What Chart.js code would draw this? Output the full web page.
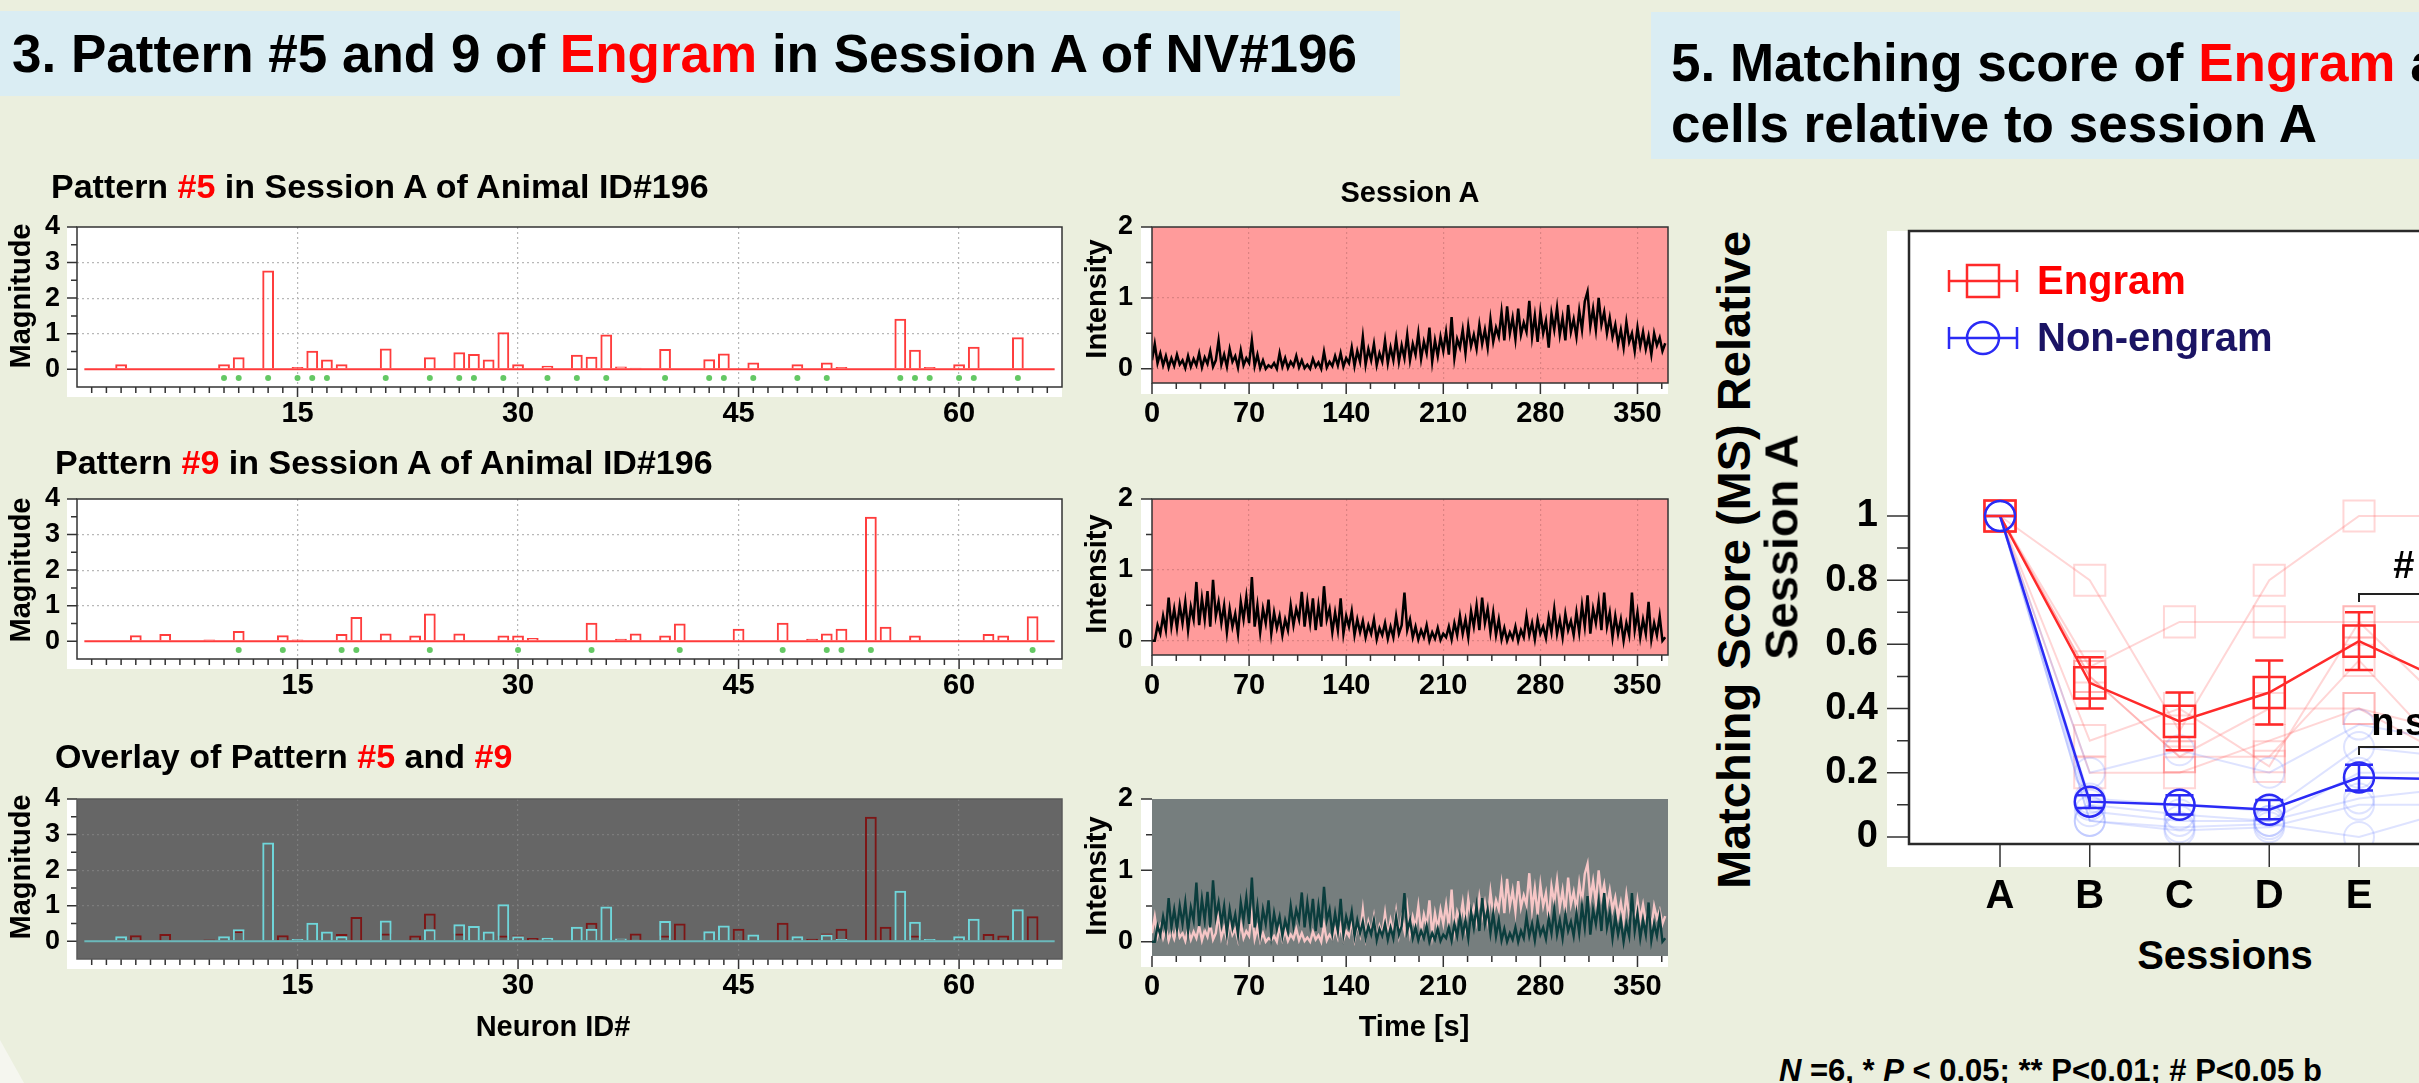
<!DOCTYPE html>
<html>
<head>
<meta charset="utf-8">
<title>Engram patterns NV#196</title>
<script src="https://cdn.jsdelivr.net/npm/chart.js@4.4.0/dist/chart.umd.min.js"></script>
<style>
  html, body { margin: 0; padding: 0; overflow: hidden; }
  body {
    width: 2419px; height: 1083px; position: relative;
    background: #ebefde;
    font-family: "Liberation Sans", Arial, sans-serif; font-weight: bold; color: #000;
  }
  .band { position: absolute; background: #daedf3; }
  .txt { position: absolute; white-space: nowrap; line-height: 1; z-index: 2; }
  .rot { position: absolute; white-space: nowrap; line-height: 1; z-index: 2;
         transform: translate(-50%, -50%) rotate(-90deg); }
  .red { color: #ff0000; }
  .corner { position: absolute; left: 0; top: 1040px; width: 24px; height: 43px;
            background: #f5f6ef; clip-path: polygon(0 0, 100% 100%, 0 100%); }
  canvas { position: absolute; z-index: 1; }
</style>
</head>
<body>

<div class="band" style="left:0; top:11px; width:1400px; height:85px;"></div>
<div class="txt" style="left:12px; top:27px; font-size:53px;">3. Pattern #5 and 9 of <span class="red">Engram</span> in Session A of NV#196</div>

<div class="band" style="left:1651px; top:12px; width:800px; height:147px;"></div>
<div class="txt" style="left:1671px; top:36px; font-size:53px;">5. Matching score of <span class="red">Engram</span> a</div>
<div class="txt" style="left:1671px; top:97px; font-size:53px;">cells relative to session A</div>

<div class="txt" style="left:51px; top:169px; font-size:34px;">Pattern <span class="red">#5</span> in Session A of Animal ID#196</div>
<div class="txt" style="left:55px; top:445px; font-size:34px;">Pattern <span class="red">#9</span> in Session A of Animal ID#196</div>
<div class="txt" style="left:55px; top:739px; font-size:34px;">Overlay of Pattern <span class="red">#5</span> and <span class="red">#9</span></div>
<div class="txt" style="left:1410px; top:178px; font-size:29px; transform:translateX(-50%);">Session A</div>

<div class="rot" style="left:20px; top:296px; font-size:29px;">Magnitude</div>
<div class="rot" style="left:20px; top:570px; font-size:29px;">Magnitude</div>
<div class="rot" style="left:20px; top:867px; font-size:29px;">Magnitude</div>
<div class="rot" style="left:1096px; top:299px; font-size:29px;">Intensity</div>
<div class="rot" style="left:1096px; top:574px; font-size:29px;">Intensity</div>
<div class="rot" style="left:1096px; top:876px; font-size:29px;">Intensity</div>

<div class="txt" style="left:553px; top:1012px; font-size:29px; transform:translateX(-50%);">Neuron ID#</div>
<div class="txt" style="left:1414px; top:1012px; font-size:29px; transform:translateX(-50%);">Time [s]</div>

<div class="rot" style="left:1733px; top:560px; font-size:47px;">Matching Score (MS) Relative</div>
<div class="rot" style="left:1781px; top:547px; font-size:47px;">Session A</div>
<div class="txt" style="left:2225px; top:935px; font-size:40px; transform:translateX(-50%);">Sessions</div>
<div class="txt" style="left:1779px; top:1055px; font-size:31px;"><i>N</i> =6, * <i>P</i> &lt; 0.05; ** P&lt;0.01; # P&lt;0.05 b</div>

<div class="corner"></div>

<script>
// ---- pattern magnitudes per neuron ----
const neuronIds = [1, 2, 3, 4, 5, 6, 7, 8, 9, 10, 11, 12, 13, 14, 15, 16, 17, 18, 19, 20, 21, 22,
  23, 24, 25, 26, 27, 28, 29, 30, 31, 32, 33, 34, 35, 36, 37, 38, 39, 40, 41, 42, 43, 44,
  45, 46, 47, 48, 49, 50, 51, 52, 53, 54, 55, 56, 57, 58, 59, 60, 61, 62, 63, 64, 65, 66];

const pattern5 = [0.03, 0.03, 0.14, 0, 0, 0, 0, 0, 0, 0.14, 0.34, 0, 2.78, 0, 0.06, 0.52, 0.27, 0.14, 0, 0, 0.58, 0,
  0, 0.34, 0, 0.48, 0.43, 0.27, 1.04, 0.14, 0, 0.1, 0, 0.41, 0.35, 0.98, 0.08, 0.04, 0, 0.57, 0, 0,
  0.28, 0.44, 0, 0.19, 0, 0, 0.14, 0, 0.19, 0.06, 0, 0, 0.03, 1.42, 0.55, 0.06, 0, 0.14, 0.63, 0.03, 0, 0.9, 0, 0];

const pattern9 = [0, 0, 0, 0.17, 0, 0.2, 0, 0, 0.05, 0, 0.29, 0, 0, 0.17, 0.05, 0, 0, 0.2, 0.68, 0, 0.22, 0,
  0.16, 0.78, 0, 0.22, 0, 0, 0.16, 0.16, 0.09, 0, 0, 0, 0.52, 0, 0.07, 0.22, 0, 0.16, 0.5, 0,
  0, 0, 0.35, 0, 0, 0.52, 0, 0.07, 0.22, 0.35, 0, 3.5, 0.41, 0, 0.16, 0, 0, 0, 0, 0.2, 0.16, 0, 0.7, 0];

// neurons flagged as engram members (green dots under the bars)
const flagged5 = [10, 11, 13, 15, 16, 17, 21, 24, 26, 27, 29, 32, 34, 36, 40, 43, 44, 46, 49, 51, 56, 57, 58, 60, 61, 64];
const flagged9 = [11, 14, 18, 19, 24, 30, 35, 41, 48, 51, 52, 54, 65];
const flagLevel = -0.25;

const neuronTicks = [15, 30, 45, 60];
const magnitudeTicks = [0, 1, 2, 3, 4];

// ---- activation traces, one sample every 2 s ----
const frameStep = 2;
const trace5 = [0.12, 0.35, 0.08, 0.22, 0.05, 0.18,
  0.02, 0.15, 0.04, 0.2, 0.06, 0.12, 0.01, 0.18, 0.03, 0.14,
  0.05, 0.22, 0.02, 0.16, 0.07, 0.25, 0.03, 0.12, 0.4, 0.06,
  0.2, 0.03, 0.28, 0.1, 0.18, 0.02, 0.26, 0.05, 0.15, 0.08,
  0.4, 0.04, 0.2, 0.01, 0.12, 0.0, 0.05, 0.02, 0.08, 0.0,
  0.22, 0.03, 0.15, 0.01, 0.1, 0.04, 0.18, 0.02, 0.12, 0.01,
  0.06, 0.0, 0.14, 0.03, 0.09, 0.0, 0.24, 0.02, 0.1, 0.04,
  0.18, 0.05, 0.22, 0.03, 0.15, 0.08, 0.3, 0.04, 0.25, 0.1,
  0.45, 0.06, 0.28, 0.12, 0.35, 0.05, 0.22, 0.1, 0.4, 0.08,
  0.3, 0.12, 0.42, 0.1, 0.33, 0.15, 0.48, 0.12, 0.35, 0.2,
  0.5, 0.14, 0.38, 0.22, 0.58, 0.1, 0.4, 0.18, 0.45, 0.25,
  0.52, 0.2, 0.73, 0.15, 0.42, 0.3, 0.55, 0.22, 0.6, 0.32,
  0.48, 0.28, 0.62, 0.35, 0.55, 0.3, 0.7, 0.38, 0.58, 0.45,
  0.8, 0.4, 0.88, 0.5, 0.72, 0.42, 0.85, 0.48, 0.65, 0.52,
  0.96, 0.45, 0.75, 0.38, 0.8, 0.5, 0.68, 0.3, 0.78, 0.55,
  0.86, 0.48, 0.72, 0.4, 0.9, 0.52, 0.7, 0.45, 0.82, 0.55,
  0.95, 1.09, 0.6, 0.85, 0.55, 1.0, 0.62, 0.8, 0.5, 0.72,
  0.45, 0.62, 0.35, 0.55, 0.3, 0.66, 0.38, 0.5, 0.25, 0.58,
  0.32, 0.52, 0.28, 0.46, 0.2, 0.5, 0.33, 0.44, 0.25, 0.36];

const trace9 = [0.0, 0.0, 0.22, 0.1, 0.35, 0.15,
  0.61, 0.2, 0.45, 0.18, 0.5, 0.25, 0.55, 0.15, 0.48, 0.3,
  0.83, 0.22, 0.6, 0.3, 0.7, 0.2, 0.86, 0.35, 0.55, 0.25,
  0.5, 0.12, 0.45, 0.2, 0.38, 0.1, 0.55, 0.3, 0.62, 0.25,
  0.9, 0.2, 0.5, 0.12, 0.45, 0.25, 0.58, 0.1, 0.4, 0.18,
  0.35, 0.08, 0.3, 0.15, 0.5, 0.22, 0.45, 0.3, 0.69, 0.2,
  0.55, 0.25, 0.6, 0.15, 0.5, 0.2, 0.77, 0.3, 0.45, 0.12,
  0.4, 0.15, 0.6, 0.1, 0.35, 0.2, 0.42, 0.08, 0.3, 0.12,
  0.28, 0.05, 0.22, 0.1, 0.3, 0.02, 0.18, 0.08, 0.25, 0.03,
  0.2, 0.05, 0.35, 0.1, 0.22, 0.68, 0.15, 0.3, 0.05, 0.2,
  0.02, 0.15, 0.05, 0.22, 0.0, 0.12, 0.03, 0.18, 0.01, 0.1,
  0.05, 0.2, 0.02, 0.25, 0.08, 0.35, 0.1, 0.3, 0.05, 0.42,
  0.2, 0.5, 0.15, 0.61, 0.25, 0.45, 0.12, 0.4, 0.08, 0.3,
  0.02, 0.18, 0.0, 0.12, 0.03, 0.2, 0.0, 0.15, 0.05, 0.35,
  0.08, 0.25, 0.02, 0.3, 0.1, 0.2, 0.04, 0.33, 0.12, 0.45,
  0.1, 0.3, 0.05, 0.38, 0.15, 0.28, 0.08, 0.4, 0.12, 0.5,
  0.2, 0.64, 0.1, 0.45, 0.25, 0.55, 0.15, 0.68, 0.2, 0.4,
  0.05, 0.35, 0.1, 0.3, 0.0, 0.25, 0.08, 0.68, 0.15, 0.4,
  0.05, 0.3, 0.1, 0.55, 0.02, 0.25, 0.08, 0.35, 0.0, 0.05];

const timeTicks = [0, 70, 140, 210, 280, 350];
const intensityTicks = [0, 1, 2];

// ---- matching score relative to session A ----
const sessions = ['A', 'B', 'C', 'D', 'E', 'F'];
const engramMean = [1, 0.48, 0.36, 0.45, 0.61, 0.48];
const engramSem = [0, 0.08, 0.09, 0.10, 0.09, 0.08];
const nonEngramMean = [1, 0.11, 0.10, 0.085, 0.185, 0.18];
const nonEngramSem = [0, 0.02, 0.03, 0.03, 0.04, 0.03];
const engramAnimals = [
  [1, 0.53, 0.67, 0.67, 0.67, 0.67],
  [1, 0.8, 0.33, 0.8, 1.0, 1.0],
  [1, 0.5, 0.25, 0.4, 0.4, 0.33],
  [1, 0.3, 0.4, 0.22, 0.67, 0.4],
  [1, 0.5, 0.25, 0.25, 0.55, 0.25],
  [1, 0.2, 0.2, 0.3, 0.4, 0.25]
];
const nonEngramAnimals = [
  [1, 0.2, 0.27, 0.2, 0.35, 0.3],
  [1, 0.12, 0.1, 0.08, 0.28, 0.25],
  [1, 0.1, 0.07, 0.05, 0.2, 0.2],
  [1, 0.08, 0.05, 0.05, 0.12, 0.15],
  [1, 0.05, 0.02, 0.03, 0.1, 0.1],
  [1, 0.05, 0.03, 0.04, 0.0, 0.08]
];
const msTicks = [0, 0.2, 0.4, 0.6, 0.8, 1];
const sigMarks = [
  { text: '#', from: 5, to: 6, lineAt: 0.757, textAt: 0.84 },
  { text: 'n.s.', from: 5, to: 6, lineAt: 0.28, textAt: 0.35 }
];

const FONT = 'Liberation Sans';
const xTickFont = { family: FONT, size: 29, weight: 'bold' };
const yTickFont = { family: FONT, size: 27, weight: 'bold' };
const numLabel = v => String(+Number(v).toFixed(2));

const steps = (from, to, step) => {
    const out = [];
    for (let v = from; v <= to + 1e-9; v += step) out.push(+v.toFixed(4));
    return out;
};

// white tick strips, plot background, tick marks and the box round the plot
const frame = {
    id: 'frame',
    beforeDraw(chart, args, o) {
        const { ctx, chartArea: a } = chart;
        ctx.save();
        ctx.fillStyle = '#ffffff';
        ctx.fillRect(a.left - o.stripLeft, a.top, a.width + o.stripLeft, a.height + o.stripBottom);
        ctx.fillStyle = o.plotBg;
        ctx.fillRect(a.left, a.top, a.width, a.height);
        ctx.restore();
    },
    afterDraw(chart, args, o) {
        const { ctx, chartArea: a, scales: { x, y } } = chart;
        ctx.save();
        ctx.strokeStyle = o.tickColor;
        ctx.lineWidth = 1.5;
        ctx.beginPath();
        const yMark = (v, len) => {
            const p = y.getPixelForValue(v);
            ctx.moveTo(a.left - len, p);
            ctx.lineTo(a.left, p);
        };
        const xMark = (v, len) => {
            const p = x.getPixelForValue(v);
            if (p < a.left - 1 || p > a.right + 1) return;
            ctx.moveTo(p, a.bottom);
            ctx.lineTo(p, a.bottom + len);
        };
        o.yMinor.forEach(v => yMark(v, o.yMinorLen));
        o.yMajor.forEach(v => yMark(v, o.yMajorLen));
        o.xMinor.forEach(v => xMark(v, o.xMinorLen));
        o.xMajor.forEach(v => xMark(v, o.xMajorLen));
        ctx.stroke();
        if (o.boxColor) {
            ctx.strokeStyle = o.boxColor;
            ctx.lineWidth = o.boxWidth;
            ctx.strokeRect(a.left, a.top, a.width, a.height);
        }
        ctx.restore();
    }
};

function addCanvas(box) {
    const c = document.createElement('canvas');
    c.width = box.w;
    c.height = box.h;
    c.style.left = box.x + 'px';
    c.style.top = box.y + 'px';
    document.body.appendChild(c);
    return c;
}

function axes(o) {
    const gridColor = skip => c => (c.tick && skip.includes(c.tick.value)) ? 'rgba(0,0,0,0)' : o.grid;
    return {
        x: {
            type: 'linear', min: o.xMin, max: o.xMax, offset: false,
            afterBuildTicks: s => { s.ticks = o.xTicks.map(v => ({ value: v })); },
            afterFit: s => { s.height = o.xH; },
            ticks: { padding: o.xPad, font: o.xFont || xTickFont, color: '#000', autoSkip: false,
                     maxRotation: 0, minRotation: 0, callback: o.xLabel || numLabel },
            grid: { display: !!o.grid, offset: false, drawTicks: false, lineWidth: 1.2,
                    color: gridColor(o.xGridSkip || []) },
            border: { display: false, dash: [2, 3] }
        },
        y: {
            type: 'linear', min: o.yMin, max: o.yMax,
            afterBuildTicks: s => { s.ticks = o.yTicks.map(v => ({ value: v })); },
            afterFit: s => { s.width = o.yW; },
            ticks: { padding: o.yPad, font: o.yFont || yTickFont, color: '#000', callback: numLabel },
            grid: { display: !!o.grid, drawTicks: false, lineWidth: 1.2,
                    color: gridColor(o.yGridSkip || []) },
            border: { display: false, dash: [2, 3] }
        }
    };
}

// the canvas leaves generous room above the plot so label padding never pushes it down
function build(box, area, yW, xH, config) {
    const canvas = addCanvas(box);
    config.options.layout = { autoPadding: false, padding: {
        left: area.l - box.x - yW,
        top: area.t - box.y,
        right: box.x + box.w - area.r,
        bottom: box.y + box.h - area.b - xH
    } };
    return new Chart(canvas, config);
}

const baseOptions = () => ({
    responsive: false, animation: false, devicePixelRatio: 1,
    events: [],
    plugins: { legend: { display: false }, tooltip: { enabled: false } }
});

// ---- pattern magnitude panels ----
function magnitudePanel(top, bottom, datasets, look) {
    const area = { l: 77, t: top, r: 1062, b: bottom };
    const box = { x: 0, y: top - 70, w: 1080, h: bottom - top + 130 };
    const options = baseOptions();
    options.scales = axes({
        xMin: 0, xMax: 67, yMin: -0.5, yMax: 4,
        xTicks: neuronTicks, yTicks: magnitudeTicks,
        yW: 60, xH: 50, yPad: 17, xPad: 10,
        grid: look.grid, yGridSkip: [0, 4]
    });
    options.plugins.frame = {
        plotBg: look.plotBg, stripLeft: 10, stripBottom: 10,
        tickColor: '#333', boxColor: look.boxColor, boxWidth: 1.5,
        yMajor: magnitudeTicks, yMinor: [0.5, 1.5, 2.5, 3.5], yMajorLen: 10, yMinorLen: 6,
        xMajor: neuronTicks, xMinor: neuronIds, xMajorLen: 10, xMinorLen: 6
    };
    return build(box, area, 60, 50, { type: 'bar', data: { datasets }, options, plugins: [frame] });
}

const barSet = (values, color) => ({
    type: 'bar',
    data: neuronIds.map((n, i) => ({ x: n, y: values[i] })),
    borderColor: color, borderWidth: 2, backgroundColor: 'rgba(0,0,0,0)',
    borderSkipped: 'start', barPercentage: 0.8, categoryPercentage: 1, grouped: false
});
const baseline = color => ({
    type: 'line',
    data: [{ x: neuronIds[0] - 0.5, y: 0 }, { x: neuronIds[neuronIds.length - 1] + 0.5, y: 0 }],
    borderColor: color, borderWidth: 2, pointRadius: 0
});
const flags = ids => ({
    type: 'line', showLine: false,
    data: ids.map(n => ({ x: n, y: flagLevel })),
    pointRadius: 3, pointBackgroundColor: '#64c864', pointBorderWidth: 0
});

const whiteLook = { plotBg: '#ffffff', grid: '#b8b8b8', boxColor: '#333' };
magnitudePanel(227, 387, [baseline('#ff3a3a'), barSet(pattern5, 'rgba(255,40,40,0.9)'), flags(flagged5)], whiteLook);
magnitudePanel(499, 659, [baseline('#ff3a3a'), barSet(pattern9, 'rgba(255,40,40,0.9)'), flags(flagged9)], whiteLook);
magnitudePanel(799, 959, [baseline('#6bb9bb'), barSet(pattern5, '#6fd6da'), barSet(pattern9, '#7d1616')],
    { plotBg: '#666666', grid: '#7c7c7c', boxColor: '#5a5a5a' });

// ---- activation trace panels ----
function tracePanel(top, bottom, datasets, look) {
    const area = { l: 1152, t: top, r: 1668, b: bottom };
    const box = { x: 1100, y: top - 70, w: 590, h: bottom - top + 130 };
    const options = baseOptions();
    options.scales = axes({
        xMin: 0, xMax: 372, yMin: -0.2, yMax: 2,
        xTicks: timeTicks, yTicks: intensityTicks,
        yW: 40, xH: 50, yPad: 19, xPad: 14,
        grid: look.grid, xGridSkip: [0], yGridSkip: [2]
    });
    options.plugins.frame = {
        plotBg: look.plotBg, stripLeft: 11, stripBottom: 11,
        tickColor: '#333', boxColor: look.boxColor, boxWidth: 1.5,
        yMajor: intensityTicks, yMinor: [0.5, 1.5], yMajorLen: 11, yMinorLen: 6,
        xMajor: timeTicks, xMinor: steps(17.5, 367.5, 17.5), xMajorLen: 11, xMinorLen: 6
    };
    return build(box, area, 40, 50, { type: 'line', data: { datasets }, options, plugins: [frame] });
}

const traceSet = (values, color, width) => ({
    data: values.map((v, i) => ({ x: i * frameStep, y: v })),
    borderColor: color, borderWidth: width, pointRadius: 0, tension: 0
});

const pinkLook = { plotBg: '#ff9b9b', grid: 'rgba(190,110,110,0.55)', boxColor: '#333' };
tracePanel(227, 383, [traceSet(trace5, '#000000', 2.5)], pinkLook);
tracePanel(499, 655, [traceSet(trace9, '#000000', 2.5)], pinkLook);
tracePanel(799, 956, [traceSet(trace9, '#0b3d3d', 2.4), traceSet(trace5, '#f6c6c6', 2.4)],
    { plotBg: '#767e7e', grid: 'rgba(0,0,0,0)', boxColor: null });

// ---- matching score panel ----
const errorBars = {
    id: 'errorBars',
    afterDatasetsDraw(chart) {
        const { ctx, scales: { x, y } } = chart;
        chart.data.datasets.forEach(ds => {
            if (!ds.sem) return;
            ctx.save();
            ctx.strokeStyle = ds.borderColor;
            ctx.lineWidth = 2.5;
            ctx.beginPath();
            ds.data.forEach((p, i) => {
                const px = x.getPixelForValue(p.x);
                const hi = y.getPixelForValue(p.y + ds.sem[i]);
                const lo = y.getPixelForValue(p.y - ds.sem[i]);
                ctx.moveTo(px, hi); ctx.lineTo(px, lo);
                ctx.moveTo(px - 14, hi); ctx.lineTo(px + 14, hi);
                ctx.moveTo(px - 14, lo); ctx.lineTo(px + 14, lo);
            });
            ctx.stroke();
            ctx.restore();
        });
    }
};

const sigBrackets = {
    id: 'sigBrackets',
    afterDraw(chart) {
        const { ctx, scales: { x, y } } = chart;
        ctx.save();
        ctx.strokeStyle = '#222';
        ctx.lineWidth = 2;
        ctx.fillStyle = '#000';
        ctx.font = 'bold 38px "' + FONT + '"';
        ctx.textAlign = 'center';
        ctx.textBaseline = 'middle';
        sigMarks.forEach(m => {
            const x0 = x.getPixelForValue(m.from), x1 = x.getPixelForValue(m.to);
            const py = y.getPixelForValue(m.lineAt);
            ctx.beginPath();
            ctx.moveTo(x0, py + 8); ctx.lineTo(x0, py); ctx.lineTo(x1, py); ctx.lineTo(x1, py + 8);
            ctx.stroke();
            ctx.fillText(m.text, x.getPixelForValue((m.from + m.to) / 2), y.getPixelForValue(m.textAt));
        });
        ctx.restore();
    }
};

const msLegend = {
    id: 'msLegend',
    afterDraw(chart, args, o) {
        const { ctx, chartArea: a } = chart;
        o.items.forEach(it => {
            const ds = chart.data.datasets[it.dataset];
            const cx = a.left + o.markerX, cy = a.top + it.dy;
            ctx.save();
            ctx.strokeStyle = ds.borderColor;
            ctx.lineWidth = 2.5;
            ctx.beginPath();
            ctx.moveTo(cx - o.half, cy); ctx.lineTo(cx + o.half, cy);
            ctx.moveTo(cx - o.half, cy - 11); ctx.lineTo(cx - o.half, cy + 11);
            ctx.moveTo(cx + o.half, cy - 11); ctx.lineTo(cx + o.half, cy + 11);
            ctx.stroke();
            ctx.beginPath();
            if (ds.pointStyle === 'rect') ctx.rect(cx - 16, cy - 16, 32, 32);
            else ctx.arc(cx, cy, 16, 0, Math.PI * 2);
            ctx.stroke();
            ctx.fillStyle = it.textColor;
            ctx.font = 'bold 40px "' + FONT + '"';
            ctx.textBaseline = 'middle';
            ctx.fillText(ds.label, a.left + o.textX, cy + 2);
            ctx.restore();
        });
    }
};

const toPoints = vals => vals.map((v, i) => ({ x: i + 1, y: v }));

const msDatasets = [
    { label: 'Non-engram', data: toPoints(nonEngramMean), sem: nonEngramSem,
      borderColor: '#2a2af5', borderWidth: 2.5, pointStyle: 'circle', pointRadius: 15,
      pointBorderWidth: 2.5, pointBackgroundColor: 'rgba(0,0,0,0)', pointBorderColor: '#2a2af5' },
    { label: 'Engram', data: toPoints(engramMean), sem: engramSem,
      borderColor: '#ff2a2a', borderWidth: 2.5, pointStyle: 'rect', pointRadius: 22,
      pointBorderWidth: 2.5, pointBackgroundColor: 'rgba(0,0,0,0)', pointBorderColor: '#ff2a2a' }
];
nonEngramAnimals.forEach(vals => msDatasets.push({
    data: toPoints(vals), borderColor: 'rgba(90,115,255,0.2)', borderWidth: 2,
    pointStyle: 'circle', pointRadius: 15, pointBorderWidth: 2,
    pointBackgroundColor: 'rgba(0,0,0,0)', pointBorderColor: 'rgba(90,115,255,0.2)'
}));
engramAnimals.forEach(vals => msDatasets.push({
    data: toPoints(vals), borderColor: 'rgba(255,95,95,0.26)', borderWidth: 2,
    pointStyle: 'rect', pointRadius: 22, pointBorderWidth: 2,
    pointBackgroundColor: 'rgba(0,0,0,0)', pointBorderColor: 'rgba(255,95,95,0.26)'
}));

(function matchingPanel() {
    const area = { l: 1909, t: 231, r: 2538.5, b: 844 };
    const box = { x: 1800, y: 160, w: 900, h: 770 };
    const options = baseOptions();
    options.scales = axes({
        xMin: -0.014, xMax: 7, yMin: -0.022, yMax: 1.888,
        xTicks: [1, 2, 3, 4, 5, 6], yTicks: msTicks,
        yW: 100, xH: 80, yPad: 31, xPad: 29,
        xFont: { family: FONT, size: 40, weight: 'bold' },
        yFont: { family: FONT, size: 38, weight: 'bold' },
        xLabel: v => sessions[Math.round(v) - 1],
        grid: null
    });
    options.plugins.frame = {
        plotBg: '#ffffff', stripLeft: 22, stripBottom: 23,
        tickColor: '#333', boxColor: '#2a2a2a', boxWidth: 2.5,
        yMajor: msTicks, yMinor: [0.1, 0.3, 0.5, 0.7, 0.9], yMajorLen: 22, yMinorLen: 12,
        xMajor: [1, 2, 3, 4, 5, 6], xMinor: [], xMajorLen: 23, xMinorLen: 0
    };
    options.plugins.msLegend = {
        markerX: 74, half: 34, textX: 128,
        items: [
            { dataset: 1, dy: 50, textColor: '#ff0000' },
            { dataset: 0, dy: 107, textColor: '#1b1464' }
        ]
    };
    build(box, area, 100, 80, {
        type: 'line', data: { datasets: msDatasets }, options,
        plugins: [frame, errorBars, sigBrackets, msLegend]
    });
})();
</script>
</body>
</html>
